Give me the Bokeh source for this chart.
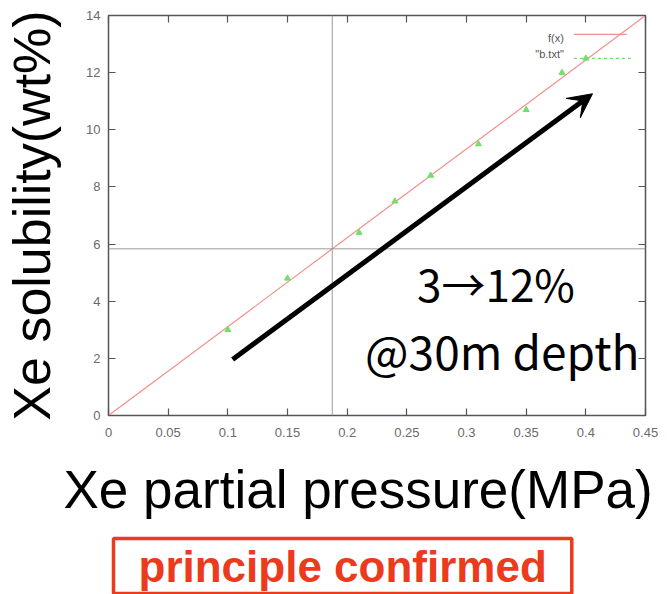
from bokeh.plotting import figure
from bokeh.models import (Label, Span, Arrow, VeeHead, FixedTicker, LinearAxis, Title)
from bokeh.embed import file_html
from bokeh.resources import INLINE

# --- data -------------------------------------------------------------
pressure_mpa = [0.10, 0.15, 0.21, 0.24, 0.27, 0.31, 0.35, 0.38, 0.40]
solubility_wt = [3.0, 4.8, 6.4, 7.5, 8.4, 9.5, 10.7, 12.0, 12.5]
fit_slope = 31.11          # f(x) = fit_slope * x
x_ticks = [0, 0.05, 0.1, 0.15, 0.2, 0.25, 0.3, 0.35, 0.4, 0.45]
x_tick_labels = ["0", "0.05", "0.1", "0.15", "0.2", "0.25", "0.3", "0.35", "0.4", "0.45"]
y_ticks = [0, 2, 4, 6, 8, 10, 12, 14]
marker_pressure = 0.1875   # crosshair position (30 m depth)
arrow_from = (0.104, 1.96)
arrow_to = (0.4056, 11.26)

X0, X1, Y0, Y1 = 0.0, 0.45, 0.0, 14.0

p = figure(width=667, height=594, output_backend="svg", toolbar_location=None,
           x_range=(X0, X1), y_range=(Y0, Y1),
           min_border_left=107, min_border_right=22,
           min_border_top=15, min_border_bottom=179,
           x_axis_location=None, y_axis_location=None)
p.background_fill_color = "white"
p.border_fill_color = "white"
p.grid.visible = False
p.outline_line_color = "#555555"
p.outline_line_width = 1.5

tick_font = "Liberation Sans"
tick_color = "#6a6a6a"
title_font = "Liberation Sans"
note_font = "Noto Sans CJK JP"


def make_axis(ticks, labels=None, show_labels=True):
    ax = LinearAxis(ticker=FixedTicker(ticks=ticks))
    ax.axis_line_color = None
    ax.major_tick_in = 7
    ax.major_tick_out = 0
    ax.major_tick_line_color = "#555555"
    ax.major_tick_line_width = 1.2
    ax.minor_tick_line_color = None
    ax.major_label_text_font = tick_font
    ax.major_label_text_font_size = "13px"
    ax.major_label_text_color = tick_color
    if labels is not None:
        ax.major_label_overrides = {t: l for t, l in zip(ticks, labels)}
    if not show_labels:
        ax.major_label_text_font_size = "0px"
        ax.major_label_text_alpha = 0
    return ax


bottom = make_axis(x_ticks, x_tick_labels)
bottom.major_label_standoff = 12
p.add_layout(bottom, "below")

left = make_axis(y_ticks)
left.major_label_standoff = 8
left.axis_label = "Xe solubility(wt%)"
left.axis_label_text_font = title_font
left.axis_label_text_font_size = "52px"
left.axis_label_text_font_style = "normal"
left.axis_label_text_color = "black"
left.axis_label_standoff = 22
p.add_layout(left, "left")

p.add_layout(make_axis(x_ticks, show_labels=False), "above")
p.add_layout(make_axis(y_ticks, show_labels=False), "right")

# x axis title, starting a little left of the frame
x_title = Title(text="Xe partial pressure(MPa)", align="left", offset=-45,
                text_font=title_font, text_font_size="53px",
                text_font_style="normal", text_color="black", standoff=36)
p.add_layout(x_title, "below")

# conclusion box
box_title = Title(text="principle confirmed", align="left", offset=5,
                  text_font=title_font, text_font_size="44px", text_font_style="bold",
                  text_color="#ec3a1c", standoff=0,
                  border_line_color="#ec3a1c", border_line_width=3.5,
                  background_fill_color="white",
                  padding=dict(left=25, right=25, top=3, bottom=3))
p.add_layout(box_title, "below")

# crosshair at the 30 m depth pressure
p.add_layout(Span(location=marker_pressure, dimension="height",
                  line_color="#9a9a9a", line_width=1))
p.add_layout(Span(location=fit_slope * marker_pressure, dimension="width",
                  line_color="#9a9a9a", line_width=1))

# fitted line f(x)
p.line([X0, X1], [fit_slope * X0, fit_slope * X1],
       line_color="#f0908c", line_width=1.2)

# measured points
p.scatter(pressure_mpa, solubility_wt, marker="triangle", size=6,
          fill_color="#6fe06a", line_color="#6fe06a")

# key (top right)
p.segment(x0=[0.390], y0=[13.34], x1=[0.4343], y1=[13.34],
          line_color="#f0908c", line_width=1.2)
p.segment(x0=[0.390], y0=[12.50], x1=[0.4393], y1=[12.50],
          line_color="#6fe06a", line_width=1.2, line_dash="3 3")
p.add_layout(Label(x=0.3816, y=13.2, text="f(x)", text_align="right",
                   text_baseline="middle", text_font=tick_font,
                   text_font_size="11px", text_color="#555555"))
p.add_layout(Label(x=0.3816, y=12.67, text='"b.txt"', text_align="right",
                   text_baseline="middle", text_font=tick_font,
                   text_font_size="11px", text_color="#555555"))

# trend arrow
p.add_layout(Arrow(x_start=arrow_from[0], y_start=arrow_from[1],
                   x_end=arrow_to[0], y_end=arrow_to[1],
                   line_color="black", line_width=5,
                   end=VeeHead(size=24, fill_color="black", line_color="black")))

p.add_layout(Label(x=0.3247, y=4.63, text="3→12%", text_align="center",
                   text_baseline="middle", text_font=note_font,
                   text_font_size="44px", text_color="black"))
p.add_layout(Label(x=0.330, y=2.30, text="@30m depth", text_align="center",
                   text_baseline="middle", text_font=note_font,
                   text_font_size="46px", text_color="black"))

open("out.html", "w").write(file_html(p, INLINE))
